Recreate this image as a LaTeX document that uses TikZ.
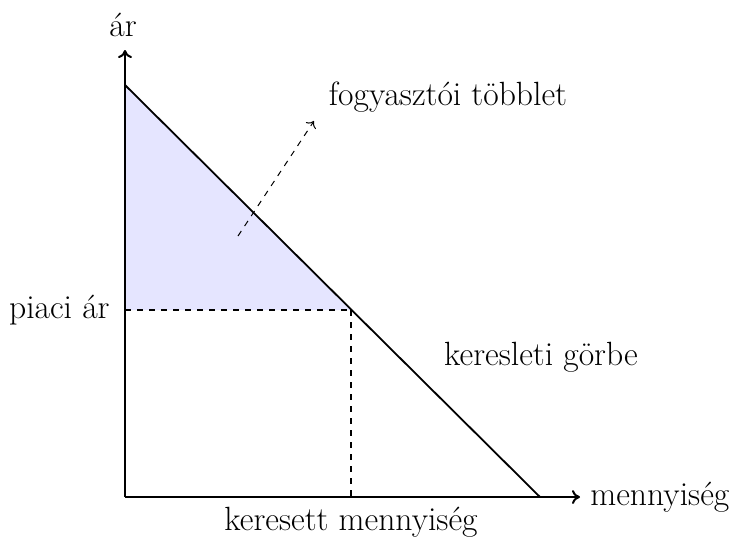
\documentclass[tikz,border=0pt]{standalone}
\usetikzlibrary{arrows.meta}
\begin{document}
\begin{tikzpicture}[x=0.5pt,y=-0.5pt,
  lbl/.style={font=\fontsize{16.8}{20}\selectfont, inner sep=0pt},
  axis/.style={line width=1pt,-{To[length=4pt,width=7pt]}},
  curve/.style={line width=0.9pt},
  guide/.style={dashed, line width=0.8pt}]
\useasboundingbox (0,0) rectangle (732,538);
\coordinate (O) at (125,497);
\coordinate (top) at (125,85);
\coordinate (E) at (351,310);
\coordinate (P) at (125,310);
\coordinate (Q) at (351,497);
\coordinate (end) at (540,497);
\coordinate (yend) at (125,50);
\coordinate (xend) at (580,497);
\fill[blue!10] (top) -- (P) -- (E) -- cycle;
\draw[axis] (O) -- (yend);
\draw[axis] (O) -- (xend);
\draw[curve] (top) -- (end);
\draw[dashed, line width=0.6pt] (P) -- (E);
\draw[guide] (E) -- (Q);
\coordinate (a1) at (238,236);
\coordinate (a2) at (314,121);
\draw[dashed, line width=0.5pt, -{To[length=3pt,width=6pt]}] (a1) -- (a2);
\node[lbl] (ar) at (123,25) {ár};
\node[lbl, anchor=east] (piaci) at (110,310) {piaci ár};
\node[lbl] (keresett) at (351,522) {keresett mennyiség};
\node[lbl, anchor=west] (menny) at (590,497) {mennyiség};
\node[lbl] (gorbe) at (541,357) {keresleti görbe};
\node[lbl] (fogy) at (448,97) {fogyasztói többlet};
\end{tikzpicture}
\end{document}
